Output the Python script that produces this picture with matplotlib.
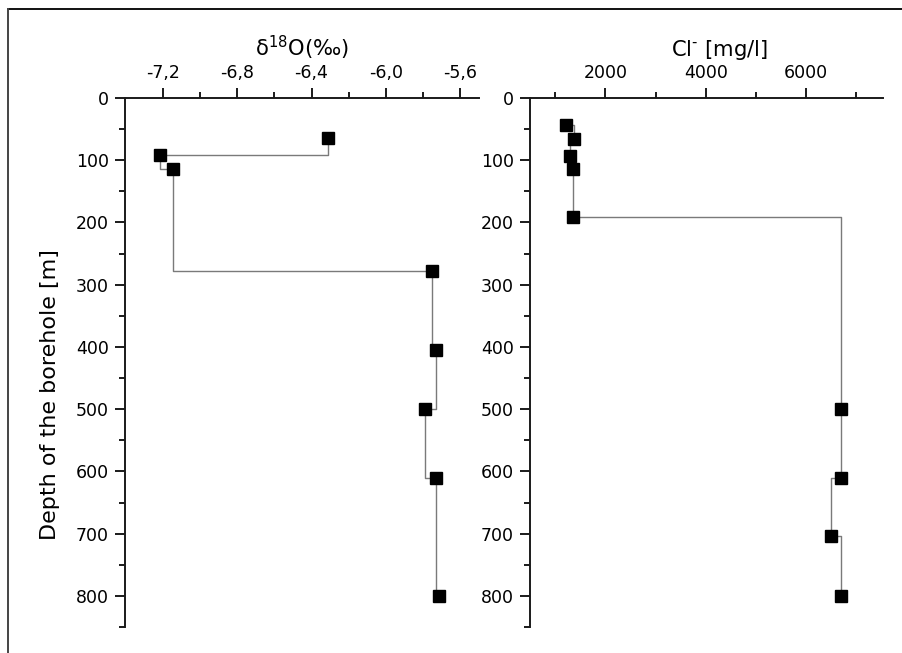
import matplotlib
matplotlib.use("Agg")
import matplotlib.pyplot as plt
from matplotlib.lines import Line2D
from matplotlib.ticker import FixedLocator, FixedFormatter, MultipleLocator

plt.rcParams['font.family'] = ['DejaVu Sans']
plt.rcParams['mathtext.fontset'] = 'dejavusans'

# ---- data ----
o18_depth = [64, 91, 114, 278, 405, 500, 610, 800]
o18_value = [-6.31, -7.22, -7.15, -5.75, -5.73, -5.79, -5.73, -5.71]

cl_depth = [44, 66, 93, 114, 191, 500, 610, 703, 800]
cl_value = [1210, 1380, 1300, 1350, 1350, 6700, 6700, 6500, 6700]

o18_ticks = [-7.2, -6.8, -6.4, -6.0, -5.6]
o18_ticklabels = ['-7,2', '-6,8', '-6,4', '-6,0', '-5,6']
cl_ticks = [2000, 4000, 6000]
cl_ticklabels = ['2000', '4000', '6000']
depth_ticks = [0, 100, 200, 300, 400, 500, 600, 700, 800]
depth_ticklabels = [str(d) for d in depth_ticks]

W, H = 903, 653
fig = plt.figure(figsize=(W / 100, H / 100), dpi=100)

def px_axes(x0, x1, y0, y1):
    return fig.add_axes([x0 / W, 1 - y1 / H, (x1 - x0) / W, (y1 - y0) / H])

ax1 = px_axes(125, 479, 98, 627)
ax2 = px_axes(530, 883, 98, 627)

line_color = '#7a7a7a'
axis_color = '#1a1a1a'

for ax in (ax1, ax2):
    ax.set_ylim(850, 0)
    ax.spines['bottom'].set_visible(False)
    ax.spines['right'].set_visible(False)
    for s in ('left', 'top'):
        ax.spines[s].set_linewidth(1.4)
        ax.spines[s].set_color(axis_color)
    ax.xaxis.set_ticks_position('top')
    ax.xaxis.set_label_position('top')
    ax.yaxis.set_ticks_position('left')
    ax.yaxis.set_major_locator(FixedLocator(depth_ticks))
    ax.yaxis.set_major_formatter(FixedFormatter(depth_ticklabels))
    ax.yaxis.set_minor_locator(MultipleLocator(50))
    ax.tick_params(which='major', direction='out', length=7, width=1.4,
                   labelsize=12.5, pad=4.5, color=axis_color)
    ax.tick_params(which='minor', direction='out', length=4, width=1.4,
                   color=axis_color)
    ax.patch.set_alpha(0)

# left panel
ax1.set_xlim(-7.407, -5.496)
ax1.xaxis.set_major_locator(FixedLocator(o18_ticks))
ax1.xaxis.set_major_formatter(FixedFormatter(o18_ticklabels))
ax1.xaxis.set_minor_locator(FixedLocator([-7.0, -6.6, -6.2, -5.8]))
ax1.plot(o18_value, o18_depth, drawstyle='steps-pre', color=line_color, lw=1.0, zorder=2)
ax1.plot(o18_value, o18_depth, linestyle='none', marker='s', ms=8.5,
         color='black', zorder=3, clip_on=False)
ax1.set_xlabel('δ$^{18}$O(‰)', fontsize=15.2)
ax1.set_ylabel('Depth of the borehole [m]', fontsize=16)
ax1.yaxis.set_label_coords(-0.183, 0.44)

# right panel
ax2.set_xlim(500, 7530)
ax2.xaxis.set_major_locator(FixedLocator(cl_ticks))
ax2.xaxis.set_major_formatter(FixedFormatter(cl_ticklabels))
ax2.xaxis.set_minor_locator(FixedLocator([1000, 3000, 5000, 7000]))
ax2.plot(cl_value, cl_depth, drawstyle='steps-post', color=line_color, lw=1.0, zorder=2)
ax2.plot(cl_value, cl_depth, linestyle='none', marker='s', ms=8.5,
         color='black', zorder=3, clip_on=False)
ax2.set_xlabel(r'Cl$^{\text{-}}$ [mg/l]', fontsize=15.2)
ax2.xaxis.set_label_coords(0.538, 1.0 + 36 / 529)
ax1.xaxis.set_label_coords(0.5, 1.0 + 36 / 529)
for lab in (ax1.xaxis.label, ax2.xaxis.label):
    lab.set_va('bottom')

# figure frame (top and left edges)
fig.add_artist(Line2D([8 / W, 1], [1 - 9 / H, 1 - 9 / H], color='#111111', lw=1.4,
                      transform=fig.transFigure))
fig.add_artist(Line2D([8 / W, 8 / W], [0, 1 - 9 / H], color='#444444', lw=1.4,
                      transform=fig.transFigure))

fig.savefig('out.png', dpi=100)
